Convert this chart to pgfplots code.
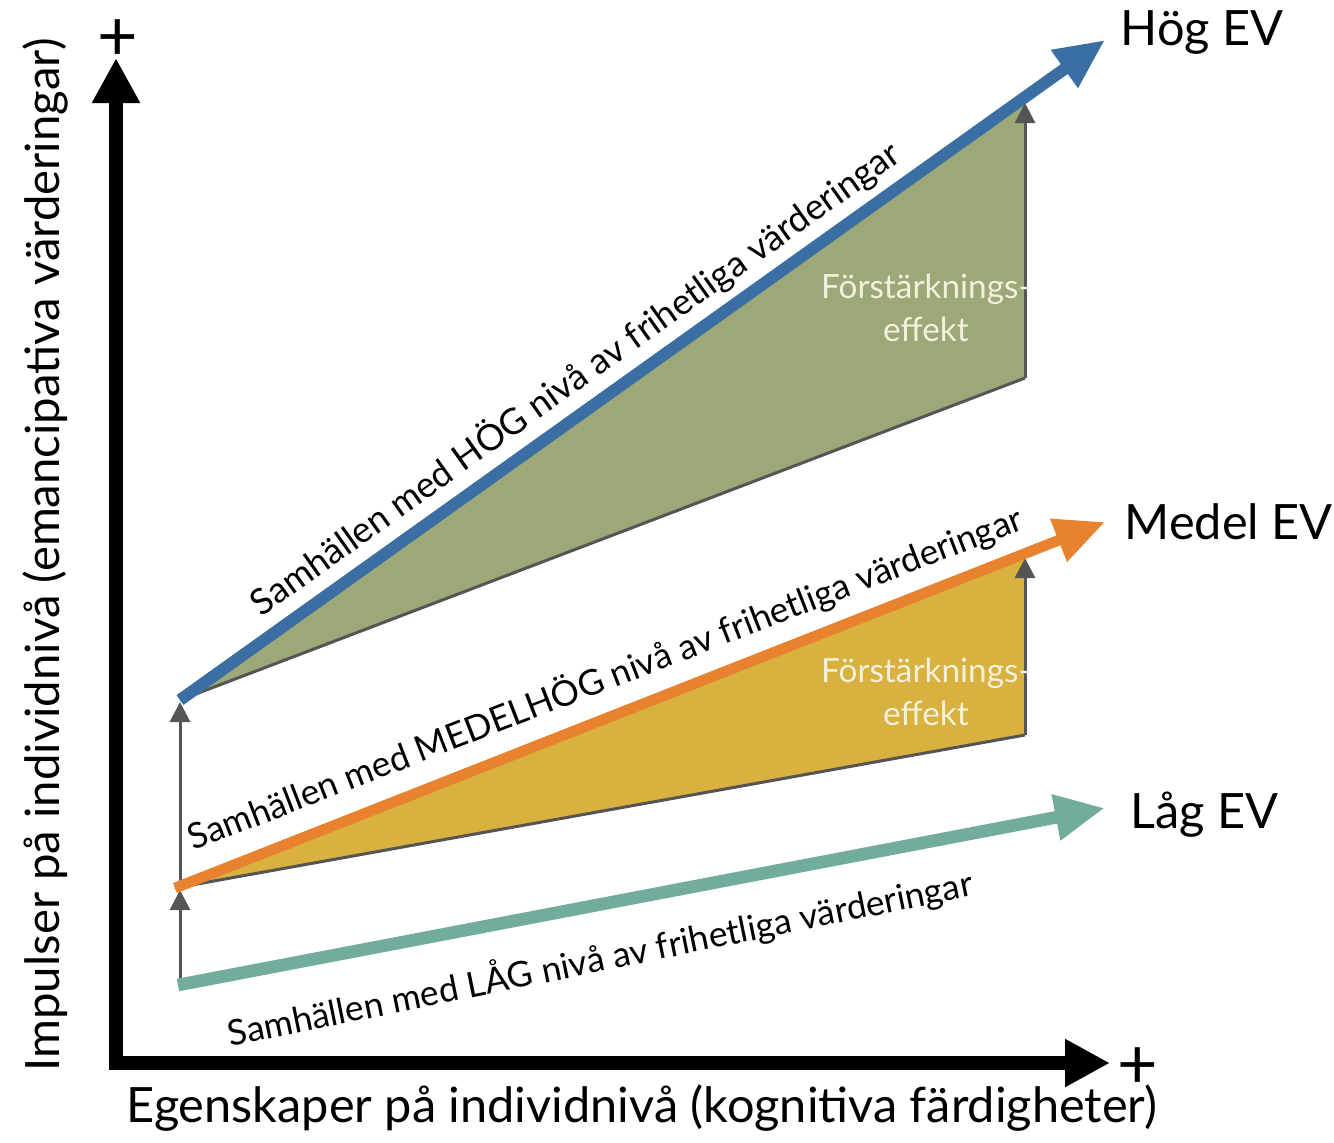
\documentclass[border=0pt]{standalone}
\usepackage{pgfplots}
\pgfplotsset{compat=1.18}
\usepackage{fontspec}
\setmainfont{Lato}
\usetikzlibrary{arrows.meta}
\definecolor{evblue}{HTML}{3B6FA3}
\definecolor{evgreen}{HTML}{9CA878}
\definecolor{evorange}{HTML}{E8822F}
\definecolor{evyellow}{HTML}{D8B13E}
\definecolor{evteal}{HTML}{72AC9C}
\definecolor{evgray}{HTML}{555555}
\definecolor{evcream}{HTML}{F3F1DC}
\begin{document}
\begin{tikzpicture}
\begin{axis}[
  x=0.3pt, y=0.3pt,
  xmin=0, xmax=1334, ymin=0, ymax=1142,
  y dir=reverse,
  hide axis, clip=false,
]
\path (rel axis cs:0,0) rectangle (rel axis cs:1,1);
% filled areas
\addplot[fill=evgreen, draw=none] coordinates {(180,700) (1025,97) (1025,378)} -- cycle;
\addplot[fill=evyellow, draw=none] coordinates {(175,888) (1025,553) (1025,735)} -- cycle;
% lower edges
\addplot[evgray, line width=0.9pt] coordinates {(180,700) (1025,378)};
\addplot[evgray, line width=0.9pt] coordinates {(175,888) (1025,735)};
% vertical gray arrows
\addplot[evgray, line width=0.9pt, -{Triangle[length=6pt,width=6pt]}] coordinates {(1025,378) (1025,103)};
\addplot[evgray, line width=0.9pt, -{Triangle[length=6pt,width=6pt]}] coordinates {(1025,735) (1025,558)};
\addplot[evgray, line width=0.9pt, -{Triangle[length=6pt,width=6pt]}] coordinates {(180,985) (180,890)};
\addplot[evgray, line width=0.9pt, -{Triangle[length=6pt,width=6pt]}] coordinates {(180,888) (180,702)};
% main arrows
\addplot[evteal, line width=3.8pt, -{Triangle[length=15pt,width=13pt]}] coordinates {(178,985) (1105,808)};
\addplot[evorange, line width=3.2pt, -{Triangle[length=15pt,width=13pt]}] coordinates {(175,888) (1105,522)};
\addplot[evblue, line width=3.6pt, -{Triangle[length=15pt,width=13pt]}] coordinates {(180,700) (1105,40)};
% axes
\addplot[black, line width=4.2pt, -{Triangle[length=13.5pt,width=13.5pt]}] coordinates {(116,1063) (116,58)};
\addplot[black, line width=4.2pt, -{Triangle[length=13.5pt,width=13.5pt]}] coordinates {(109,1063) (1110,1063)};
% texts
\begin{scope}[every node/.style={inner sep=0pt}]
\node[font=\fontsize{21}{22}\selectfont] at (axis cs:118,40) {+};
\node[font=\fontsize{21}{22}\selectfont] at (axis cs:1138,1068) {+};
\node[font=\fontsize{14.6}{17}\selectfont] at (axis cs:642,1108) {Egenskaper på individnivå (kognitiva färdigheter)};
\node[font=\fontsize{14.2}{17}\selectfont, rotate=90] at (axis cs:45,555) {Impulser på individnivå (emancipativa värderingar)};
\node[font=\fontsize{14.6}{17}\selectfont, anchor=west] at (axis cs:1120,33) {Hög EV};
\node[font=\fontsize{14.6}{17}\selectfont, anchor=west] at (axis cs:1124,522) {Medel EV};
\node[font=\fontsize{14.6}{17}\selectfont, anchor=west] at (axis cs:1130,815) {Låg EV};
\node[font=\fontsize{10.8}{12}\selectfont, rotate=35.5] at (axis cs:575,378) {Samhällen med HÖG nivå av frihetliga värderingar};
\node[font=\fontsize{10.6}{12}\selectfont, rotate=21.2] at (axis cs:605,678) {Samhällen med MEDELHÖG nivå av frihetliga värderingar};
\node[font=\fontsize{10.6}{12}\selectfont, rotate=11.5] at (axis cs:600,958) {Samhällen med LÅG nivå av frihetliga värderingar};
\node[font=\fontsize{10}{13}\selectfont, text=evcream, align=center] at (axis cs:926,308) {Förstärknings-\\effekt};
\node[font=\fontsize{10}{13}\selectfont, text=evcream, align=center] at (axis cs:926,692) {Förstärknings-\\effekt};
\end{scope}
\end{axis}
\end{tikzpicture}
\end{document}
